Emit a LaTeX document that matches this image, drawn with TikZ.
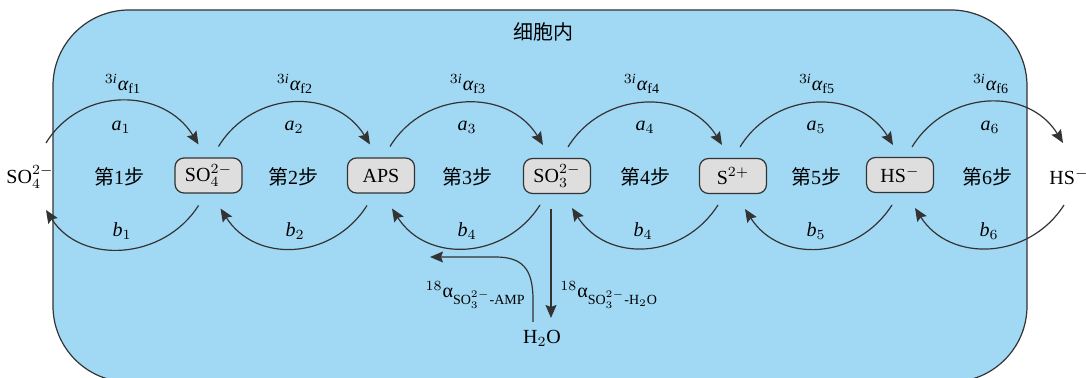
\documentclass[tikz,border=0pt]{standalone}
\usepackage{amsmath}
\usepackage{fontspec}
\setmainfont{Liberation Serif}
\newfontfamily\cjk{Noto Sans CJK SC}
\usetikzlibrary{arrows.meta,calc}
\definecolor{cellblue}{HTML}{A1D9F5}
\definecolor{boxgray}{HTML}{DEDEDE}
\definecolor{linegray}{HTML}{333333}
\begin{document}
\begin{tikzpicture}[x=0.5pt,y=-0.5pt,
  species/.style={draw=linegray, fill=boxgray, rounded corners=4.5pt, line width=0.6pt,
    minimum width=33.5pt, minimum height=17.5pt, inner sep=0pt, font=\fontsize{10}{12}\selectfont},
  freetext/.style={inner sep=0pt, font=\fontsize{10}{12}\selectfont},
  flow/.style={draw=linegray, line width=0.6pt, -{Stealth[length=6.5pt,width=5.5pt,inset=1pt]}},
  lbl/.style={inner sep=0pt, font=\fontsize{10}{12}\selectfont},
  steplbl/.style={inner sep=0pt, font=\fontsize{10}{12}\selectfont},
]
\useasboundingbox (0,0) rectangle (1086,378);
\draw[draw=linegray, fill=cellblue, line width=0.6pt, rounded corners=38pt] (53,10) rectangle (1027,382);
\node[lbl, font=\cjk\fontsize{10}{12}\selectfont] (title) at (543,32) {细胞内};

% species
\node[freetext] (n0) at (30,177) {SO$_4^{2-}$};
\node[species] (n1) at (208.5,175.5) {SO$_4^{2-}$};
\node[species] (n2) at (381,175.5) {APS};
\node[species] (n3) at (557,176) {SO$_3^{2-}$};
\node[species] (n4) at (733,176) {S$^{2+}$};
\node[species] (n5) at (900,175) {HS$^{-}$};
\node[freetext] (n6) at (1069,177) {HS$^{-}$};
\node[freetext] (h2o) at (542,338) {H$_2$O};

% step labels
\node[steplbl] (s1) at (119,177) {{\cjk 第}1{\cjk 步}};
\node[steplbl] (s2) at (293,177) {{\cjk 第}2{\cjk 步}};
\node[steplbl] (s3) at (467,177) {{\cjk 第}3{\cjk 步}};
\node[steplbl] (s4) at (645,177) {{\cjk 第}4{\cjk 步}};
\node[steplbl] (s5) at (816,177) {{\cjk 第}5{\cjk 步}};
\node[steplbl] (s6) at (987,177) {{\cjk 第}6{\cjk 步}};

% forward arcs
\draw[flow] ([shift={(16,-34)}]n0.center) .. controls +(35,-57) and +(-35,-57) .. ([shift={(-10,-31)}]n1.center);
\draw[flow] ([shift={(10,-29)}]n1.center) .. controls +(35,-57) and +(-35,-57) .. ([shift={(-11,-31)}]n2.center);
\draw[flow] ([shift={(9,-29)}]n2.center) .. controls +(35,-57) and +(-35,-57) .. ([shift={(-14,-31)}]n3.center);
\draw[flow] ([shift={(11,-29)}]n3.center) .. controls +(35,-57) and +(-35,-57) .. ([shift={(-11,-31)}]n4.center);
\draw[flow] ([shift={(7,-29)}]n4.center) .. controls +(35,-57) and +(-35,-57) .. ([shift={(-7,-30)}]n5.center);
\draw[flow] ([shift={(12,-28)}]n5.center) .. controls +(35,-57) and +(-35,-57) .. ([shift={(-6,-34)}]n6.center);

% backward arcs
\draw[flow] ([shift={(-10,30)}]n1.center) .. controls +(-35,55) and +(35,55) .. ([shift={(16,33)}]n0.center);
\draw[flow] ([shift={(-14,30)}]n2.center) .. controls +(-35,55) and +(35,55) .. ([shift={(12,33)}]n1.center);
\draw[flow] ([shift={(-17,29)}]n3.center) .. controls +(-35,55) and +(35,55) .. ([shift={(11,33)}]n2.center);
\draw[flow] ([shift={(-15,29)}]n4.center) .. controls +(-35,55) and +(35,55) .. ([shift={(15,32)}]n3.center);
\draw[flow] ([shift={(-8,30)}]n5.center) .. controls +(-35,55) and +(35,55) .. ([shift={(12,33)}]n4.center);
\draw[flow] ([shift={(-5,28)}]n6.center) .. controls +(-35,55) and +(35,55) .. ([shift={(15,33)}]n5.center);

% forward labels
\node[lbl] (f1) at (123,84) {${}^{3\mathit{i}}\mbox{\itshape α}_{\mathrm{f1}}$};
\node[lbl] (f2) at (295,84) {${}^{3\mathit{i}}\mbox{\itshape α}_{\mathrm{f2}}$};
\node[lbl] (f3) at (468,84) {${}^{3\mathit{i}}\mbox{\itshape α}_{\mathrm{f3}}$};
\node[lbl] (f4) at (642,84) {${}^{3\mathit{i}}\mbox{\itshape α}_{\mathrm{f4}}$};
\node[lbl] (f5) at (817,84) {${}^{3\mathit{i}}\mbox{\itshape α}_{\mathrm{f5}}$};
\node[lbl] (f6) at (991,84) {${}^{3\mathit{i}}\mbox{\itshape α}_{\mathrm{f6}}$};

\node[lbl] (a1) at (121,127) {$\mathit{a}_1$};
\node[lbl] (a2) at (294,127) {$\mathit{a}_2$};
\node[lbl] (a3) at (467,127) {$\mathit{a}_3$};
\node[lbl] (a4) at (645,127) {$\mathit{a}_4$};
\node[lbl] (a5) at (816,127) {$\mathit{a}_5$};
\node[lbl] (a6) at (990,127) {$\mathit{a}_6$};

\node[lbl] (b1) at (122,231) {$\mathit{b}_1$};
\node[lbl] (b2) at (295,231) {$\mathit{b}_2$};
\node[lbl] (b3) at (467,231) {$\mathit{b}_4$};
\node[lbl] (b4) at (643,231) {$\mathit{b}_4$};
\node[lbl] (b5) at (816,231) {$\mathit{b}_5$};
\node[lbl] (b6) at (989,231) {$\mathit{b}_6$};

% water branch
\draw[flow] ([shift={(-6,33)}]n3.center) -- ([shift={(9,-20)}]h2o.center);
\coordinate (ampend) at (430,257);
\draw[flow] ([shift={(-9,-16)}]h2o.center) -- (533,300) .. controls (533,268) and (522,257) .. (495,257) -- (ampend);
\node[lbl, anchor=east] (l1) at (526,295) {${}^{18}\mbox{α}_{\mathrm{SO}_3^{2-}\text{-AMP}}$};
\node[lbl, anchor=west] (l2) at (560,295) {${}^{18}\mbox{α}_{\mathrm{SO}_3^{2-}\text{-H}_2\text{O}}$};
\end{tikzpicture}
\end{document}
